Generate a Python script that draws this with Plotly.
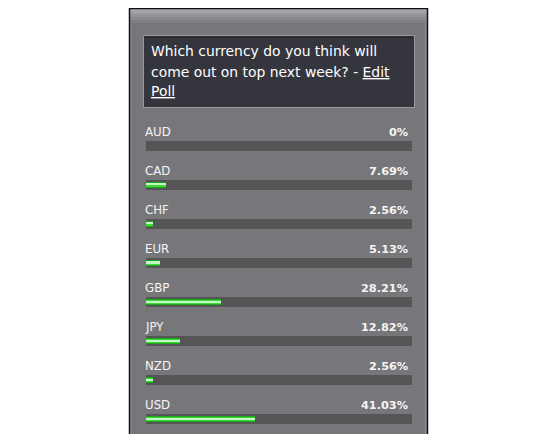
import plotly.graph_objects as go

# ---- data ----
currencies = ["AUD", "CAD", "CHF", "EUR", "GBP", "JPY", "NZD", "USD"]
percentages = [0, 7.69, 2.56, 5.13, 28.21, 12.82, 2.56, 41.03]
question_lines = ["Which currency do you think will",
                  "come out on top next week? - <u>Edit</u>",
                  "<u>Poll</u>"]

OFF = 8  # page body margin
W, H = 549 - OFF, 434 - OFF
PITCH = 39.07

def px(x):
    return (x - OFF) / W

def py(y):
    return 1 - (y - OFF) / H

fig = go.Figure()

n = len(currencies)
fig.add_trace(go.Bar(y=currencies, x=[101.5] * n, base=-0.75, orientation="h",
                     width=10 / PITCH, marker=dict(color="#555555", line=dict(width=0)),
                     hoverinfo="skip"))
fig.add_trace(go.Bar(y=currencies, x=percentages, base=0, orientation="h",
                     width=6.2 / PITCH, marker=dict(color="#1ea81e", line=dict(width=0)),
                     hoverinfo="skip"))
fig.add_trace(go.Bar(y=currencies, x=percentages, base=0, orientation="h",
                     width=4.2 / PITCH, marker=dict(color="#3cd83c", line=dict(width=0)),
                     hoverinfo="skip"))
fig.add_trace(go.Bar(y=currencies, x=percentages, base=0, orientation="h",
                     width=1.6 / PITCH, marker=dict(color="#c4f6c4", line=dict(width=0)),
                     hoverinfo="skip"))

shapes = []
shapes.append(dict(type="rect", xref="paper", yref="paper", x0=px(129.5), x1=px(427.5),
                   y0=py(440), y1=py(8.5), fillcolor="#77777b",
                   line=dict(color="#111111", width=1.5), layer="below"))
header = ["#a6a6ac", "#9c9ca2", "#929298", "#88888e", "#7f7f84"]
for i, c in enumerate(header):
    shapes.append(dict(type="rect", xref="paper", yref="paper", x0=px(130.5), x1=px(426.5),
                       y0=py(9.5 + (i + 1) * 2.6), y1=py(9.5 + i * 2.6), fillcolor=c,
                       line=dict(width=0), layer="below"))
shapes.append(dict(type="line", xref="paper", yref="paper", x0=px(131), x1=px(131),
                   y0=py(434), y1=py(22), line=dict(color="#87878c", width=1), layer="below"))
shapes.append(dict(type="line", xref="paper", yref="paper", x0=px(425.5), x1=px(425.5),
                   y0=py(434), y1=py(22), line=dict(color="#87878c", width=1.5), layer="below"))
shapes.append(dict(type="rect", xref="paper", yref="paper", x0=px(143.5), x1=px(414.5),
                   y0=py(107.5), y1=py(35.5), fillcolor="#35353d",
                   line=dict(color="#9a9aa2", width=1), layer="below"))
shapes.append(dict(type="line", xref="paper", yref="paper", x0=px(144), x1=px(414),
                   y0=py(37), y1=py(37), line=dict(color="#2a2a31", width=1.5), layer="below"))

annotations = []
line_y = [51, 72, 91]
for t, yy in zip(question_lines, line_y):
    annotations.append(dict(xref="paper", yref="paper", x=px(149), y=py(yy), text=t,
                            showarrow=False, xanchor="left", yanchor="middle",
                            font=dict(family="DejaVu Sans", size=13.9, color="#ffffff")))

for c, v in zip(currencies, percentages):
    annotations.append(dict(x=0, y=c, xref="x", yref="y", text=c, showarrow=False,
                            xanchor="left", yanchor="middle", yshift=13.5, xshift=-3,
                            font=dict(family="DejaVu Sans", size=11.8, color="#f4f4f4")))
    annotations.append(dict(x=99.4, y=c, xref="x", yref="y", text=f"<b>{v:g}%</b>",
                            showarrow=False, xanchor="right", yanchor="middle", yshift=13.5,
                            font=dict(family="DejaVu Sans", size=11.3, color="#f4f4f4")))

top_px = 145.5 - PITCH / 2
fig.update_layout(
    width=W, height=H, margin=dict(l=0, r=0, t=0, b=0),
    paper_bgcolor="#ffffff", plot_bgcolor="rgba(0,0,0,0)",
    barmode="overlay", showlegend=False, bargap=0,
    shapes=shapes, annotations=annotations,
    xaxis=dict(domain=[px(146), px(412)], range=[0, 100], visible=False, fixedrange=True),
    yaxis=dict(domain=[0, py(top_px)], type="category", categoryorder="array",
               categoryarray=currencies,
               range=[(434 - 145.5) / PITCH, -0.5], visible=False, fixedrange=True),
)

fig.write_html("out.html", config={"displayModeBar": False})
